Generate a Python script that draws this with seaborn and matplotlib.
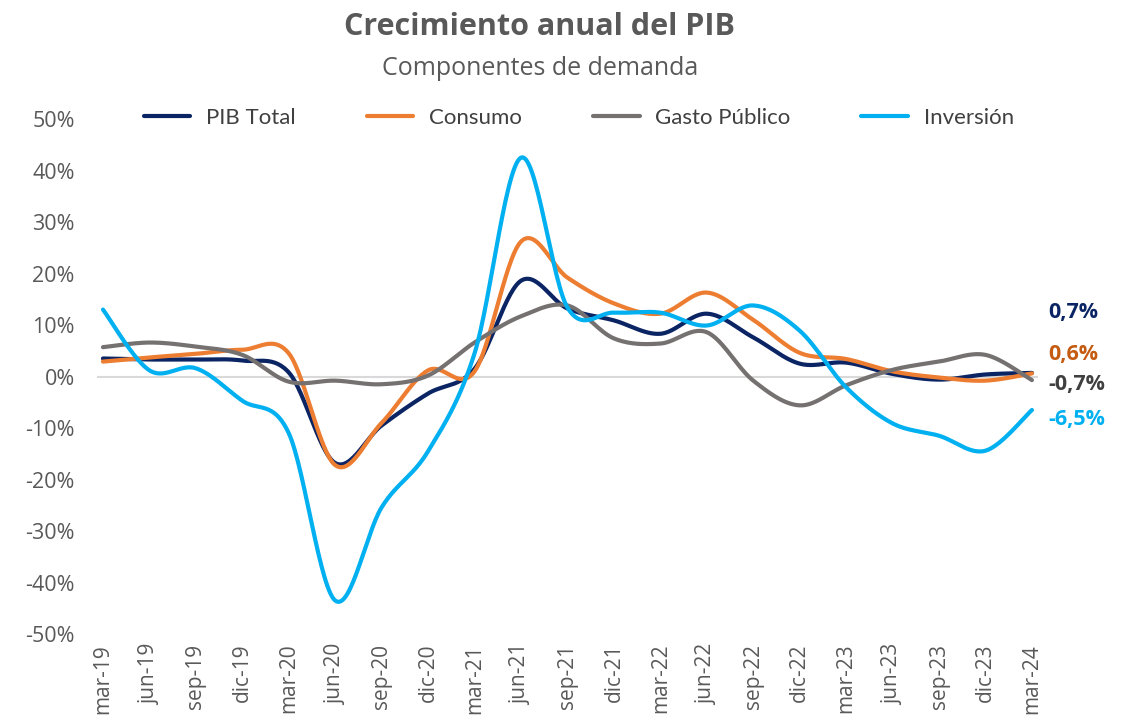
import matplotlib
matplotlib.use("Agg")
import matplotlib.pyplot as plt
import numpy as np
import seaborn as sns

quarters = ["mar-19", "jun-19", "sep-19", "dic-19", "mar-20", "jun-20", "sep-20", "dic-20",
            "mar-21", "jun-21", "sep-21", "dic-21", "mar-22", "jun-22", "sep-22", "dic-22",
            "mar-23", "jun-23", "sep-23", "dic-23", "mar-24"]

pib_total = [3.5, 3.3, 3.3, 3.1, 0.8, -16.8, -9.5, -3.3, 1.5, 18.6, 13.2, 10.9, 8.3, 12.2, 7.6,
             2.5, 2.7, 0.5, -0.6, 0.4, 0.7]
consumo = [2.9, 3.7, 4.4, 5.2, 4.5, -17.2, -9.0, 1.2, 1.0, 26.2, 19.2, 14.2, 12.2, 16.3, 11.0,
           4.6, 3.4, 1.0, -0.2, -0.8, 0.6]
gasto_publico = [5.7, 6.6, 5.8, 4.2, -1.0, -0.8, -1.5, 0.2, 6.6, 11.7, 13.8, 7.4, 6.4, 8.6, -0.8,
                 -5.6, -1.7, 1.3, 2.9, 4.2, -0.7]
inversion = [13.0, 1.2, 1.6, -4.7, -11.0, -43.5, -25.4, -14.5, 4.5, 42.5, 13.4, 12.4, 12.4, 9.9,
             13.8, 8.9, -2.1, -9.1, -11.5, -14.4, -6.5]

series = {"PIB Total": pib_total, "Consumo": consumo,
          "Gasto Público": gasto_publico, "Inversión": inversion}
colors = {"PIB Total": "#0B2463", "Consumo": "#ED7D31",
          "Gasto Público": "#767171", "Inversión": "#00B0F0"}
end_label_colors = {"PIB Total": "#0B2463", "Consumo": "#C55A11",
                    "Gasto Público": "#404040", "Inversión": "#00B0F0"}


def smooth(y, n=30):
    # Excel-style smoothed line: cubic bezier with catmull-rom control points
    y = np.asarray(y, dtype=float)
    x = np.arange(len(y), dtype=float)
    px = np.concatenate([[x[0]], x, [x[-1]]])
    py = np.concatenate([[y[0]], y, [y[-1]]])
    xs, ys = [], []
    t = np.linspace(0, 1, n, endpoint=False)
    for i in range(len(y) - 1):
        p0 = np.array([x[i], y[i]])
        p3 = np.array([x[i + 1], y[i + 1]])
        p1 = p0 + (np.array([px[i + 2], py[i + 2]]) - np.array([px[i], py[i]])) / 6
        p2 = p3 - (np.array([px[i + 3], py[i + 3]]) - np.array([px[i + 1], py[i + 1]])) / 6
        pts = ((1 - t) ** 3)[:, None] * p0 + (3 * (1 - t) ** 2 * t)[:, None] * p1 \
            + (3 * (1 - t) * t ** 2)[:, None] * p2 + (t ** 3)[:, None] * p3
        xs.append(pts[:, 0])
        ys.append(pts[:, 1])
    xs.append([x[-1]])
    ys.append([y[-1]])
    return np.concatenate(xs), np.concatenate(ys)


sns.set_style("white")
plt.rcParams["font.family"] = ["Open Sans", "DejaVu Sans"]

fig = plt.figure(figsize=(11.27, 7.2), dpi=100)
ax = fig.add_axes([0.086, 0.1194, 0.835, 0.7153])

ax.axhline(0, color="#D9D9D9", lw=1.5, zorder=1)
for name, vals in series.items():
    sx, sy = smooth(vals)
    sns.lineplot(x=sx, y=sy, sort=False, color=colors[name], lw=3, ax=ax,
                 label=name, zorder=3, solid_capstyle="round")

ax.set_xlim(-0.13, 20.13)
ax.set_ylim(-50, 50)
ax.set_yticks(range(-50, 51, 10))
ax.set_yticklabels([f"{v}%" for v in range(-50, 51, 10)], fontsize=15.5, color="#595959")
ax.set_xticks(range(len(quarters)))
ax.set_xticklabels(quarters, rotation=90, fontsize=15, color="#595959")
ax.tick_params(axis="y", length=0, pad=16)
ax.tick_params(axis="x", length=0, pad=7)
ax.set_xlabel("")
ax.set_ylabel("")
sns.despine(ax=ax, left=True, bottom=True)

leg = ax.legend(loc="lower center", bbox_to_anchor=(0.512, 0.944), ncol=4, frameon=False,
                prop={"family": ["Lato", "DejaVu Sans"], "size": 16},
                handlelength=2.1, handletextpad=0.7, columnspacing=3.2)
for txt in leg.get_texts():
    txt.set_color("#404040")

end_y = {"PIB Total": 12.5, "Consumo": 4.2, "Gasto Público": -1.5, "Inversión": -8.3}
for name, vals in series.items():
    v = vals[-1]
    ax.text(20.35, end_y[name], f"{v:.1f}%".replace(".", ","), color=end_label_colors[name],
            fontsize=15.5, fontweight="bold", va="center", ha="left", clip_on=False)

fig.text(0.479, 0.963, "Crecimiento anual del PIB", ha="center", va="center",
         fontsize=22, fontweight="bold", color="#595959")
fig.text(0.479, 0.905, "Componentes de demanda", ha="center", va="center",
         fontsize=18, color="#595959")

fig.savefig("out.png", dpi=100)
